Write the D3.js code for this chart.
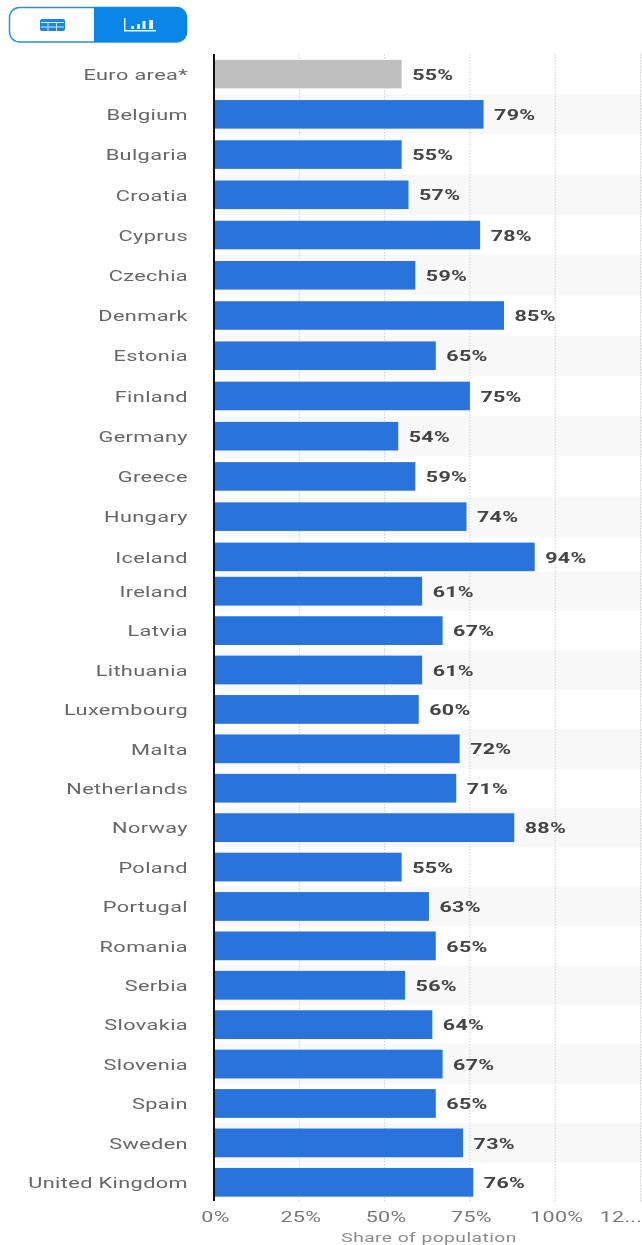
<!DOCTYPE html>
<html><head><meta charset="utf-8">
<script src="https://cdn.jsdelivr.net/npm/d3@7/dist/d3.min.js"></script>
<style>html,body{margin:0;padding:0;background:#fff}svg{display:block;filter:blur(0.45px)}text{font-family:Roboto,sans-serif}</style>
</head><body><svg id="c" width="642" height="1245"></svg>
<script>
const upperCategories = ["Euro area*","Belgium","Bulgaria","Croatia","Cyprus","Czechia","Denmark","Estonia","Finland","Germany","Greece","Hungary","Iceland"];
const lowerCategories = ["Ireland","Latvia","Lithuania","Luxembourg","Malta","Netherlands","Norway","Poland","Portugal","Romania","Serbia","Slovakia","Slovenia","Spain","Sweden","United Kingdom"];
const upperValues = [55,79,55,57,78,59,85,65,75,54,59,74,94];
const lowerValues = [61,67,61,60,72,71,88,55,63,65,56,64,67,65,73,76];
const xTicks = [0,25,50,75,100,125];
const xTitle = "Share of population";

const svg = d3.select("#c");
const x = d3.scaleLinear().domain([0,125]).range([214,640.5]);
const yU = d3.scaleBand().domain(upperCategories).range([54,577]).paddingInner(0.29).paddingOuter(0.145);
const yL = d3.scaleBand().domain(lowerCategories).range([571.5,1202]).paddingInner(0.27).paddingOuter(0.135);
const rows = upperCategories.map((c,i)=>({c,v:upperValues[i],y:yU,idx:i}))
  .concat(lowerCategories.map((c,i)=>({c,v:lowerValues[i],y:yL,idx:i+upperCategories.length})));
const stretch = 1.48;
const cy = d => d.y(d.c)+d.y.bandwidth()/2;

// stripes
svg.append("g").selectAll("rect").data(rows.filter(d=>d.idx%2==1)).join("rect")
  .attr("x",x(0)).attr("width",642-x(0))
  .attr("y",d=>d.y(d.c)-d.y.step()*d.y.paddingInner()/2)
  .attr("height",d=>d.y.step()).attr("fill","#f8f8f8");

// grid
svg.append("g").selectAll("line").data(xTicks.slice(1)).join("line")
  .attr("x1",d=>x(d)).attr("x2",d=>x(d)).attr("y1",54).attr("y2",1202)
  .attr("stroke","#cfcfcf").attr("stroke-width",1).attr("stroke-dasharray","1.5 1.5");

// bars
svg.append("g").selectAll("rect").data(rows).join("rect")
  .attr("x",x(0)).attr("y",d=>d.y(d.c)).attr("height",d=>d.y.bandwidth())
  .attr("width",d=>x(d.v)-x(0))
  .attr("fill",d=>d.idx==0?"#bfbfbf":"#2874dc");

// baseline
svg.append("line").attr("x1",x(0)).attr("x2",x(0)).attr("y1",54).attr("y2",1201)
  .attr("stroke","#111").attr("stroke-width",2);

// category labels
svg.append("g").selectAll("text").data(rows).join("text")
  .attr("transform",d=>`translate(188,${cy(d)+1}) scale(1.5,1)`)
  .attr("text-anchor","end").attr("dominant-baseline","central")
  .attr("font-size",14.5).attr("fill","#666").attr("letter-spacing",0.25).text(d=>d.c);

// value labels
svg.append("g").selectAll("text").data(rows).join("text")
  .attr("transform",d=>`translate(${x(d.v)+10.5},${cy(d)+0.5}) scale(${stretch},1)`)
  .attr("dominant-baseline","central").attr("font-size",14.5).attr("font-weight",700)
  .attr("fill","#444").attr("letter-spacing",0.2).text(d=>d.v+"%");

// x axis
const ax = svg.append("g").attr("transform","translate(0,1217)")
  .call(d3.axisBottom(x).tickValues(xTicks).tickSize(0).tickPadding(0).tickFormat(d=>d==125?"12...":d+"%"));
ax.select(".domain").remove();
ax.selectAll("text")
  .attr("y",0).attr("dy",null).attr("dominant-baseline","central")
  .attr("transform",d=>`translate(${d==125?-20:1},0) scale(${stretch},1)`)
  .attr("font-size",14.5).attr("fill","#777").attr("letter-spacing",0.2)
  .style("font-family","Roboto,sans-serif");

svg.append("text").attr("transform",`translate(429,1238) scale(${stretch},1)`)
  .attr("text-anchor","middle").attr("dominant-baseline","central")
  .attr("font-size",13).attr("fill","#8a8a8a").attr("letter-spacing",0.3).text(xTitle);

// toggle
const blue="#0b85e8";
const tg = svg.append("g");
tg.append("rect").attr("x",9.5).attr("y",7.5).attr("width",177).attr("height",34.5).attr("rx",10).attr("fill","#fff").attr("stroke","#2d8fd8").attr("stroke-width",1.5);
tg.append("path").attr("d","M94,7 H177 a10,10 0 0 1 10,10 V32 a10,10 0 0 1 -10,10 H94 Z").attr("fill",blue);
const t = tg.append("g").attr("fill","#1c86dc");
t.append("rect").attr("x",40).attr("y",19).attr("width",25).attr("height",12).attr("rx",2);
[47.5,56].forEach(v=>t.append("rect").attr("x",v).attr("y",22).attr("width",1).attr("height",9).attr("fill","#cfe6fa"));
[22,26.5].forEach(v=>t.append("rect").attr("x",41).attr("y",v).attr("width",23).attr("height",1).attr("fill","#cfe6fa"));
const b = tg.append("g").attr("fill","#eaf5fe");
b.append("rect").attr("x",124).attr("y",18).attr("width",1.5).attr("height",13);
b.append("rect").attr("x",124).attr("y",30).attr("width",32).attr("height",1.5);
[[131,26],[137,24],[142.5,21],[149,20]].forEach(([px,py])=>b.append("rect").attr("x",px).attr("y",py).attr("width",px>145?4:3).attr("height",29-py));
</script></body></html>
